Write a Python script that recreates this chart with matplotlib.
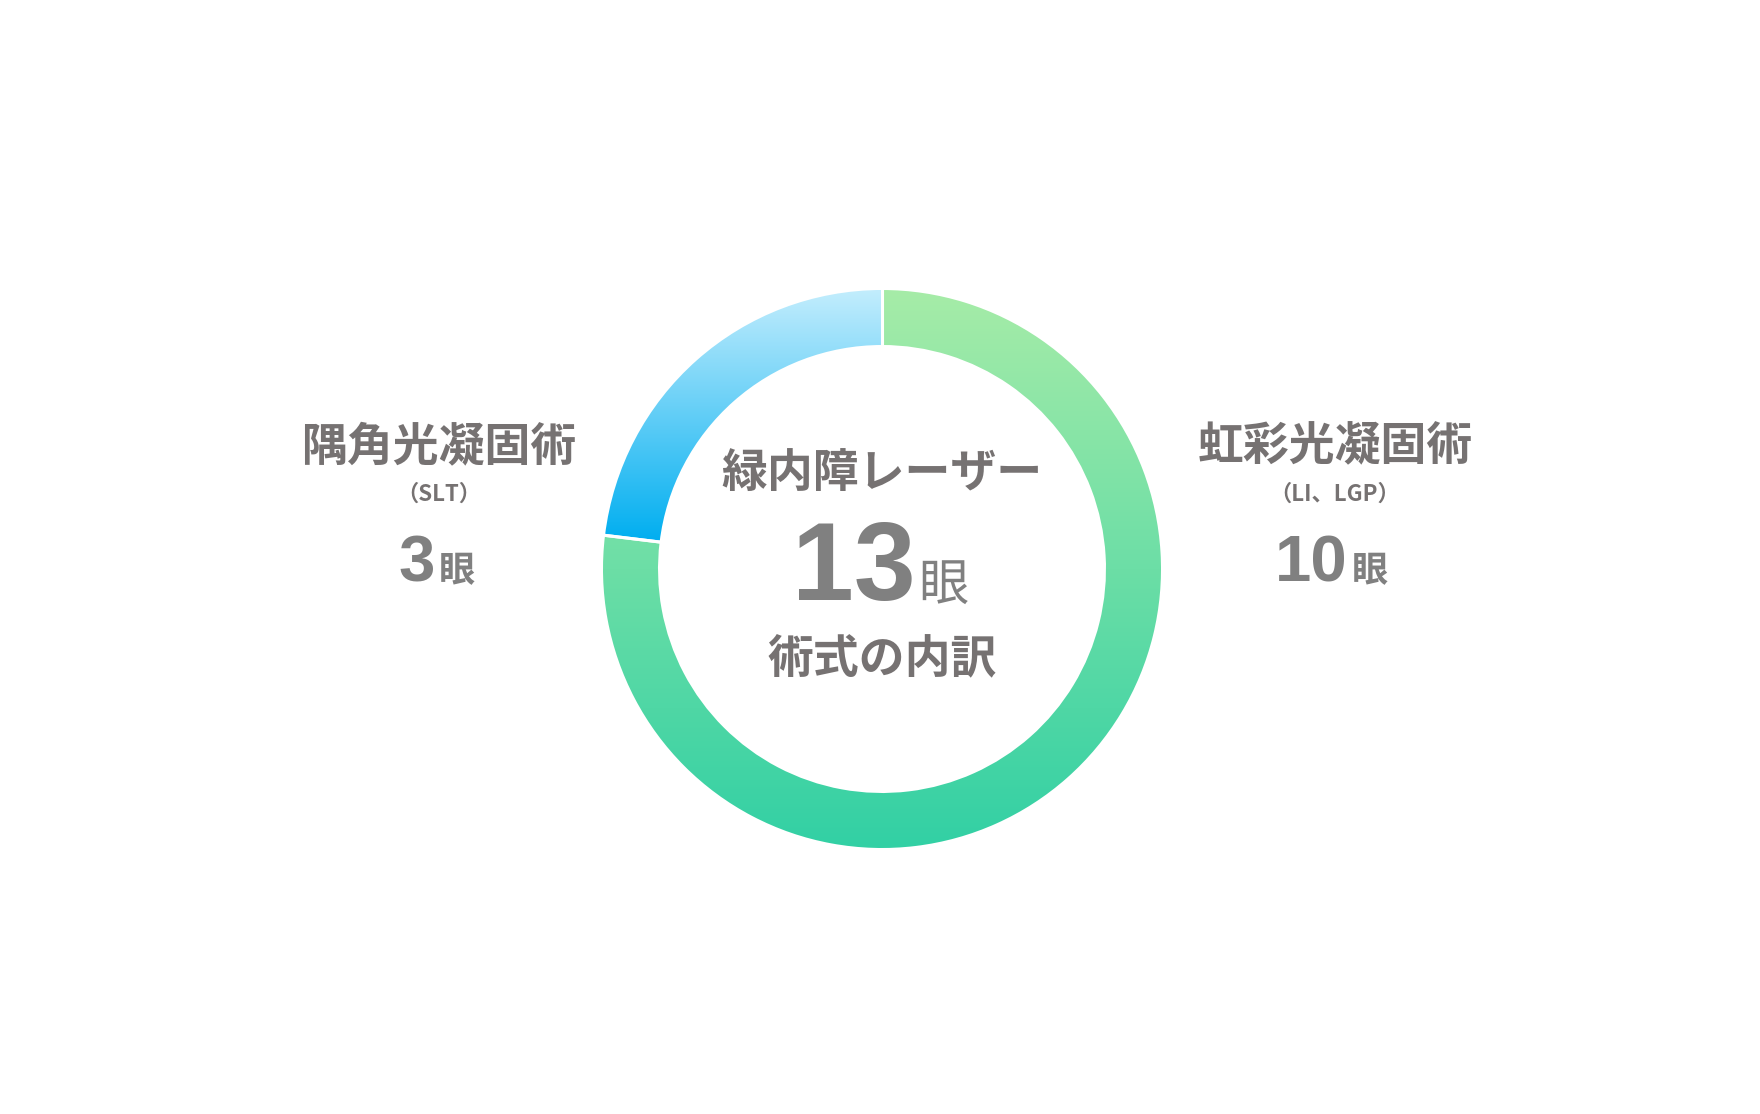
import matplotlib
matplotlib.use("Agg")
import matplotlib.pyplot as plt
import numpy as np
from matplotlib.colors import LinearSegmentedColormap

# data
methods = ["虹彩光凝固術", "隅角光凝固術"]
abbrevs = ["（LI、LGP）", "（SLT）"]
eyes = [10, 3]
center_title = "緑内障レーザー"
center_sub = "術式の内訳"
unit = "眼"

grad_top = ["#a6eca8", "#c2edfd"]
grad_bottom = ["#32d0a4", "#00aef0"]

gray = "#767272"
cjk = "Noto Sans CJK JP"
lat = ["Liberation Sans", "Noto Sans CJK JP"]

W, H = 1760, 1114
fig = plt.figure(figsize=(W / 100, H / 100), dpi=100)
ax = fig.add_axes([0, 0, 1, 1])
ax.set_xlim(0, W)
ax.set_ylim(0, H)
ax.set_aspect("equal")
ax.axis("off")

cx, cy = 882, H - 569
R = 279
wedges, _ = ax.pie(eyes, radius=R, center=(cx, cy), startangle=90,
                   counterclock=False, frame=False,
                   wedgeprops=dict(width=55, linewidth=0, edgecolor="white"))

# vertical gradient clipped to each wedge
for w, c0, c1 in zip(wedges, grad_top, grad_bottom):
    w.set_facecolor("none")
    ext = w.get_path().get_extents()
    cmap = LinearSegmentedColormap.from_list("g", [c1, c0])
    grad = np.linspace(0, 1, 256).reshape(-1, 1)
    im = ax.imshow(grad, cmap=cmap, origin="lower", aspect="auto",
                   extent=[ext.x0, ext.x1, ext.y0, ext.y1], zorder=1)
    im.set_clip_path(w)

# white separators
for w in wedges:
    for ang in (w.theta1, w.theta2):
        t = np.deg2rad(ang)
        ax.plot([cx + (R - 57) * np.cos(t), cx + (R + 2) * np.cos(t)],
                [cy + (R - 57) * np.sin(t), cy + (R + 2) * np.sin(t)],
                color="white", lw=2.2, zorder=3)
ax.set_xlim(0, W)
ax.set_ylim(0, H)

def y(v):
    return H - v

# center text
ax.text(cx, y(475), center_title, ha="center", va="center", fontsize=33,
        fontweight="bold", family=cjk, color=gray)
ax.text(916, y(600), str(sum(eyes)), ha="right", va="baseline", fontsize=80,
        fontweight="bold", family=lat, color="#808080")
ax.text(918, y(600), unit, ha="left", va="baseline", fontsize=36,
        family=cjk, color="#808080")
ax.text(cx, y(660), center_sub, ha="center", va="center", fontsize=33,
        fontweight="bold", family=cjk, color=gray)

# side labels
pos_x = [1335, 439]
for name, ab, n, px in zip(methods, abbrevs, eyes, pos_x):
    ax.text(px, y(447), name, ha="center", va="center", fontsize=33,
            fontweight="bold", family=cjk, color=gray)
    ax.text(px, y(494), ab, ha="center", va="center", fontsize=16,
            fontweight="bold", family=cjk, color=gray)
    split = px + (33 * len(str(n)) - 37) / 2
    ax.text(split - 2, y(582), str(n), ha="right", va="baseline", fontsize=47,
            fontweight="bold", family=lat, color="#808080")
    ax.text(split + 2, y(582), unit, ha="left", va="baseline", fontsize=26,
            fontweight="bold", family=cjk, color="#808080")

fig.savefig("out.png", dpi=100, facecolor="white")
